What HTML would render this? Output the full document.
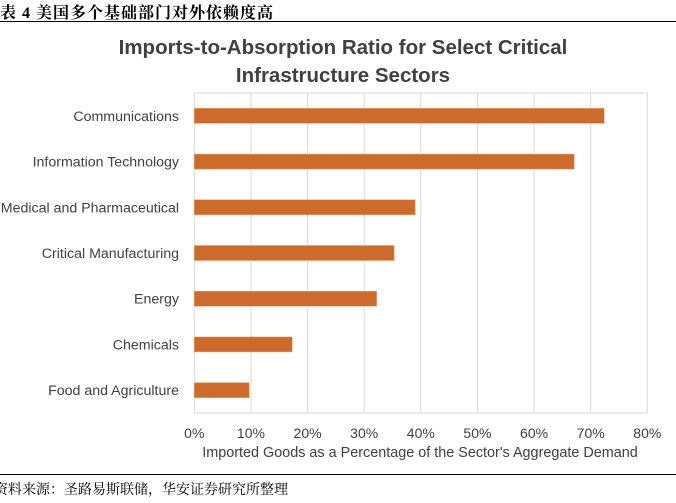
<!DOCTYPE html>
<html><head><meta charset="utf-8"><style>
body{margin:0;width:676px;height:503px;background:#fff;overflow:hidden;position:relative;font-family:"Liberation Sans","Noto Sans CJK SC",sans-serif}
.hdr{position:absolute;left:0;top:0px;font-family:"Liberation Serif","Noto Serif CJK SC",serif;font-weight:bold;font-size:16px;letter-spacing:1px;color:#000}
.rule{position:absolute;left:0;width:676px;height:1px;background:#000}
.src{position:absolute;left:-6px;top:479px;font-family:"Liberation Serif","Noto Serif CJK SC",serif;font-size:14px;letter-spacing:0px;color:#000}
</style></head><body>
<div class="hdr">表 4  美国多个基础部门对外依赖度高</div>
<div class="rule" style="top:21px"></div>
<svg id="chart" width="676" height="503" style="position:absolute;left:0;top:0">
<text x="343" y="54" text-anchor="middle" font-family="Liberation Sans, sans-serif" font-weight="bold" font-size="20.5" fill="#404040">Imports-to-Absorption Ratio for Select Critical</text>
<text x="343" y="82" text-anchor="middle" font-family="Liberation Sans, sans-serif" font-weight="bold" font-size="20.5" fill="#404040">Infrastructure Sectors</text>
<g id="grid"></g><g id="bars"></g><g id="labels"></g><g id="ticks"></g>
<text x="420" y="457" text-anchor="middle" font-family="Liberation Sans, sans-serif" font-size="14.4" fill="#404040">Imported Goods as a Percentage of the Sector's Aggregate Demand</text>
</svg>
<div class="rule" style="top:474px"></div>
<div class="src">资料来源：圣路易斯联储，华安证券研究所整理</div>
<script>
const categories=["Communications","Information Technology","Medical and Pharmaceutical","Critical Manufacturing","Energy","Chemicals","Food and Agriculture"];
const values=[72.4,67.1,39.0,35.3,32.2,17.3,9.7];
const tickValues=[0,10,20,30,40,50,60,70,80];
const tickLabels=["0%","10%","20%","30%","40%","50%","60%","70%","80%"];
const NS="http://www.w3.org/2000/svg";
const plotX0=194.3,plotX1=647.3,plotTop=93,plotBot=413,xmax=80;
function xs(v){return plotX0+(v/xmax)*(plotX1-plotX0);}
const band=(plotBot-plotTop)/categories.length;
function yc(i){return plotTop+band*(i+0.5);}
function mk(tag,attrs,parent){const e=document.createElementNS(NS,tag);for(const k in attrs)e.setAttribute(k,attrs[k]);parent.appendChild(e);return e;}
const grid=document.getElementById('grid'),bars=document.getElementById('bars'),labels=document.getElementById('labels'),ticks=document.getElementById('ticks');
tickValues.forEach((t,i)=>{
 const l=mk('line',{x1:xs(t),x2:xs(t),y1:plotTop,y2:plotBot,stroke:'#d9d9d9','stroke-width':1},grid);
 
 
 const tx=mk('text',{x:xs(t),y:438,'text-anchor':'middle','font-size':14,'font-family':'Liberation Sans, sans-serif',fill:'#404040'},ticks);
 tx.textContent=tickLabels[i];
 
 
});
const bl=mk('line',{x1:plotX0,x2:plotX1,y1:plotTop,y2:plotTop,stroke:'#d9d9d9'},grid);


const bb=mk('line',{x1:plotX0,x2:plotX1,y1:plotBot,y2:plotBot,stroke:'#d9d9d9'},grid);


categories.forEach((c,i)=>{
 const r=mk('rect',{x:plotX0,y:yc(i)-7.5,width:xs(values[i])-plotX0,height:15,fill:'#cc6b2c',stroke:'#e8a070','stroke-width':0.5},bars);
 
 
 const t=mk('text',{x:179,y:yc(i)+5,'text-anchor':'end','font-size':14.2,'font-family':'Liberation Sans, sans-serif',fill:'#404040'},labels);
 t.textContent=c;
 
 
});
</script>
</body></html>
